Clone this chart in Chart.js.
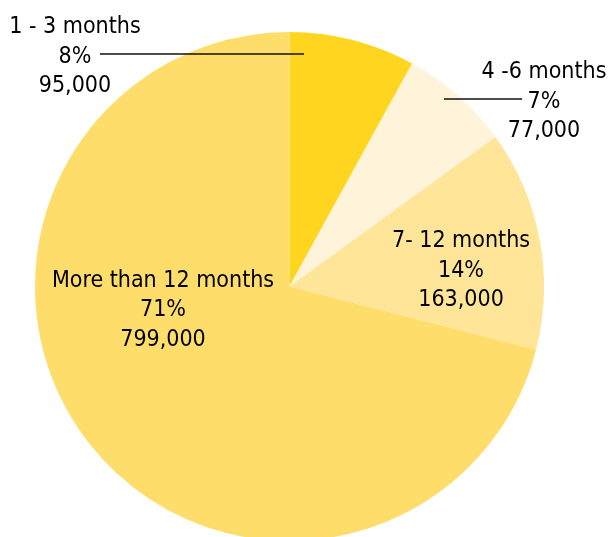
<!DOCTYPE html>
<html>
<head>
<meta charset="utf-8">
<title>Duration breakdown</title>
<script src="https://cdn.jsdelivr.net/npm/chart.js@4.4.1/dist/chart.umd.min.js"></script>
<style>
  html, body { margin: 0; padding: 0; background: #ffffff; overflow: hidden; }
  #wrap { position: absolute; left: 0; top: 0; width: 610px; height: 545px; }
</style>
</head>
<body>
<div id="wrap"><canvas id="pie" width="610" height="545"></canvas></div>
<script>
// Duration categories, their shares (%) and head counts
const categories = ['1 - 3 months', '4 -6 months', '7- 12 months', 'More than 12 months'];
const shares = [8, 7, 14, 71];
const counts = [95000, 77000, 163000, 799000];

const sliceColors = ['#FFD520', '#FFF4DA', '#FEE598', '#FEDD6B'];

// Label anchors, in fractions of the pie radius from its centre.
// Optional leader line: from (x1,y) to (x2,y), same units.
const labelPlacement = [
  { dx: -0.843, dy: -0.912, leader: { x1: -0.745, x2: 0.057, y: -0.912 } },
  { dx: 1.000,  dy: -0.735, leader: { x1: 0.607,  x2: 0.914, y: -0.737 } },
  { dx: 0.674,  dy: -0.071 },
  { dx: -0.497, dy: 0.083 }
];

const FONT_SIZE = 23;
const LINE_GAP = 29.5;

const sliceLabels = {
  id: 'sliceLabels',
  afterDatasetsDraw(chart) {
    const ctx = chart.ctx;
    const meta = chart.getDatasetMeta(0);
    ctx.save();
    ctx.font = FONT_SIZE + "px 'DejaVu Sans Condensed', 'DejaVu Sans', sans-serif";
    ctx.fillStyle = '#000000';
    ctx.textAlign = 'center';
    ctx.textBaseline = 'alphabetic';
    meta.data.forEach((arc, i) => {
      const r = arc.outerRadius;
      const p = labelPlacement[i];
      const cx = arc.x + p.dx * r;
      const cy = arc.y + p.dy * r;
      if (p.leader) {
        const ly = Math.round(arc.y + p.leader.y * r);
        ctx.strokeStyle = '#111111';
        ctx.lineWidth = 1.6;
        ctx.beginPath();
        ctx.moveTo(arc.x + p.leader.x1 * r, ly);
        ctx.lineTo(arc.x + p.leader.x2 * r, ly);
        ctx.stroke();
      }
      const lines = [
        categories[i],
        shares[i] + '%',
        counts[i].toLocaleString('en-US')
      ];
      const capShift = FONT_SIZE * 0.365;
      lines.forEach((t, k) => {
        ctx.fillText(t, cx, cy + (k - 1) * LINE_GAP + capShift);
      });
    });
    ctx.restore();
  }
};

new Chart(document.getElementById('pie'), {
  type: 'pie',
  data: {
    labels: categories,
    datasets: [{
      data: shares,
      backgroundColor: sliceColors,
      borderWidth: 0,
      hoverOffset: 0
    }]
  },
  options: {
    responsive: false,
    animation: false,
    events: [],
    layout: { padding: { left: 35, right: 66, top: 32, bottom: 4 } },
    plugins: {
      legend: { display: false },
      tooltip: { enabled: false }
    }
  },
  plugins: [sliceLabels]
});
</script>
</body>
</html>
